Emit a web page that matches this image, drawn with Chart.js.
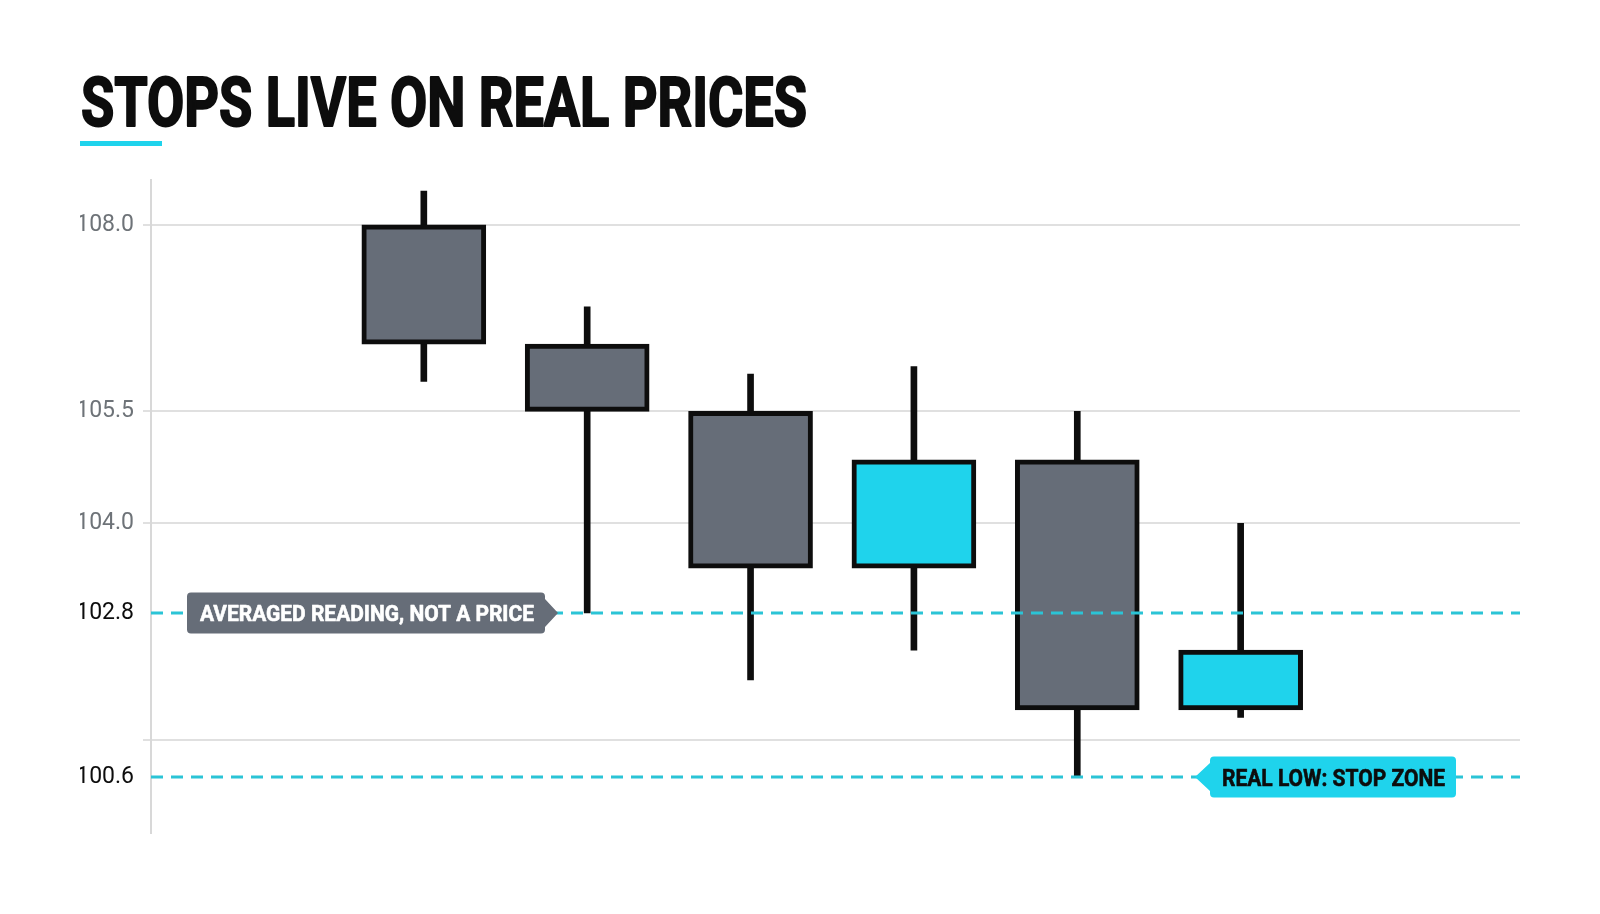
<!DOCTYPE html>
<html>
<head>
<meta charset="utf-8">
<script src="https://cdn.jsdelivr.net/npm/chart.js@4.4.1/dist/chart.umd.min.js"></script>
<style>
    html, body { margin: 0; padding: 0; background: #fff; }
    #wrap { width: 1600px; height: 914px; }
</style>
</head>
<body>
<div id="wrap"><canvas id="stops"></canvas></div>
<script>
// candles, one per session
const sessions = [1, 2, 3, 4, 5, 6];
const opens  = [108.0, 106.4, 105.5, 103.4, 104.85, 101.5];
const closes = [106.4, 105.5, 103.4, 104.85, 101.5, 102.3];
const highs  = [108.45, 106.9, 106.0, 106.1, 105.5, 104.0];
const lows   = [105.9, 102.8, 101.9, 102.3, 100.6, 101.4];

// y ticks and the two marked levels
const yTicks = [108.0, 105.5, 104.0, 102.8, 101.1, 100.6];
const yTickLabels = ['108.0', '105.5', '104.0', '102.8', '', '100.6'];
const levels = [102.8, 100.6];
const levelNotes = ['AVERAGED READING, NOT A PRICE', 'REAL LOW: STOP ZONE'];
const titleText = 'STOPS LIVE ON REAL PRICES';

const GRAY = '#666d78';
const CYAN = '#1fd3ec';
const DASH = '#2bc4d6';
const INK = '#0d0d0d';
const GRID = '#e0e0e0';

const bodyColors = sessions.map((s, i) => closes[i] >= opens[i] ? CYAN : GRAY);

// no condensed face installed, so squeeze the bold text to the width it has
function fitText(ctx, str, x, baseline, width, stroke) {
    const w = ctx.measureText(str).width;
    ctx.save();
    ctx.translate(x, baseline);
    ctx.scale(width / w, 1);
    ctx.fillText(str, 0, 0);
    if (stroke) {
        ctx.lineWidth = stroke;
        ctx.lineJoin = 'round';
        ctx.strokeStyle = ctx.fillStyle;
        ctx.strokeText(str, 0, 0);
    }
    ctx.restore();
}

function tag(ctx, left, right, cy, h, arrow, side, fill) {
    const top = cy - h / 2, bot = cy + h / 2, r = 4, ah = 14;
    ctx.beginPath();
    ctx.moveTo(left + r, top);
    ctx.lineTo(right - r, top);
    ctx.quadraticCurveTo(right, top, right, top + r);
    if (side === 'right') {
        ctx.lineTo(right, cy - ah);
        ctx.lineTo(right + arrow, cy);
        ctx.lineTo(right, cy + ah);
    }
    ctx.lineTo(right, bot - r);
    ctx.quadraticCurveTo(right, bot, right - r, bot);
    ctx.lineTo(left + r, bot);
    ctx.quadraticCurveTo(left, bot, left, bot - r);
    if (side === 'left') {
        ctx.lineTo(left, cy + ah);
        ctx.lineTo(left - arrow, cy);
        ctx.lineTo(left, cy - ah);
    }
    ctx.lineTo(left, top + r);
    ctx.quadraticCurveTo(left, top, left + r, top);
    ctx.closePath();
    ctx.fillStyle = fill;
    ctx.fill();
}

const levelPlugin = {
    id: 'levels',
    beforeDraw(chart) {
        const ctx = chart.ctx;
        ctx.save();
        ctx.fillStyle = INK;
        ctx.textBaseline = 'alphabetic';
        ctx.font = 'bold 68px Roboto';
        fitText(ctx, titleText, 81, 126, 726, 2);
        ctx.fillStyle = CYAN;
        ctx.fillRect(80, 141, 82, 5);
        ctx.restore();
    },
    afterDatasetsDraw(chart) {
        const { ctx, chartArea: a, scales: { y } } = chart;
        const py = levels.map(v => Math.round(y.getPixelForValue(v)));
        ctx.save();
        ctx.strokeStyle = DASH;
        ctx.lineWidth = 3;
        ctx.setLineDash([12, 8]);
        py.forEach(p => {
            ctx.beginPath();
            ctx.moveTo(a.left, p);
            ctx.lineTo(a.right, p);
            ctx.stroke();
        });
        ctx.setLineDash([]);

        // averaged reading note, arrow pointing right
        const l1 = a.left + 36;
        tag(ctx, l1, l1 + 358, py[0], 41, 13, 'right', GRAY);
        ctx.fillStyle = '#ffffff';
        ctx.font = 'bold 22px Roboto';
        fitText(ctx, levelNotes[0], l1 + 13, py[0] + 8, 334, 0.6);

        // real low note, arrow pointing left
        const r2 = a.right - 64;
        tag(ctx, r2 - 246, r2, py[1], 41, 15, 'left', CYAN);
        ctx.fillStyle = INK;
        ctx.font = 'bold 24px Roboto';
        fitText(ctx, levelNotes[1], r2 - 234, py[1] + 9, 223, 0.6);
        ctx.restore();
    }
};

const config = {
    type: 'bar',
    data: {
        datasets: [
            {
                label: 'Body',
                data: sessions.map((s, i) => ({ x: s, y: [opens[i], closes[i]] })),
                backgroundColor: bodyColors,
                borderColor: INK,
                borderWidth: 5,
                borderSkipped: false,
                barThickness: 124,
                grouped: false,
                order: 1
            },
            {
                label: 'Wick',
                data: sessions.map((s, i) => ({ x: s, y: [lows[i], highs[i]] })),
                backgroundColor: INK,
                borderWidth: 0,
                barThickness: 6,
                grouped: false,
                order: 2
            }
        ]
    },
    options: {
        responsive: true,
        maintainAspectRatio: false,
        animation: false,
        layout: { padding: { top: 180, right: 80, bottom: 81, left: 80 } },
        plugins: {
            legend: { display: false },
            tooltip: { enabled: false }
        },
        scales: {
            x: {
                type: 'linear',
                min: -0.67,
                max: 7.71,
                offset: false,
                grid: { offset: false },
                display: false
            },
            y: {
                min: 99.85,
                max: 108.6,
                afterBuildTicks: (scale) => { scale.ticks = yTicks.map(v => ({ value: v })); },
                afterFit: (scale) => { scale.width = 71; },
                border: { color: '#d8d8d8', width: 2 },
                grid: {
                    color: (c) => c.tick && levels.includes(c.tick.value) ? 'rgba(0,0,0,0)' : GRID,
                    lineWidth: 2,
                    tickLength: 8
                },
                ticks: {
                    padding: 9,
                    color: (c) => c.tick && levels.includes(c.tick.value) ? INK : '#6e7378',
                    font: { family: 'Roboto', size: 23 },
                    callback: (v) => yTickLabels[yTicks.indexOf(v)] ?? ''
                }
            }
        }
    },
    plugins: [levelPlugin]
};

const stopsChart = new Chart(document.getElementById('stops'), config);
</script>
</body>
</html>
